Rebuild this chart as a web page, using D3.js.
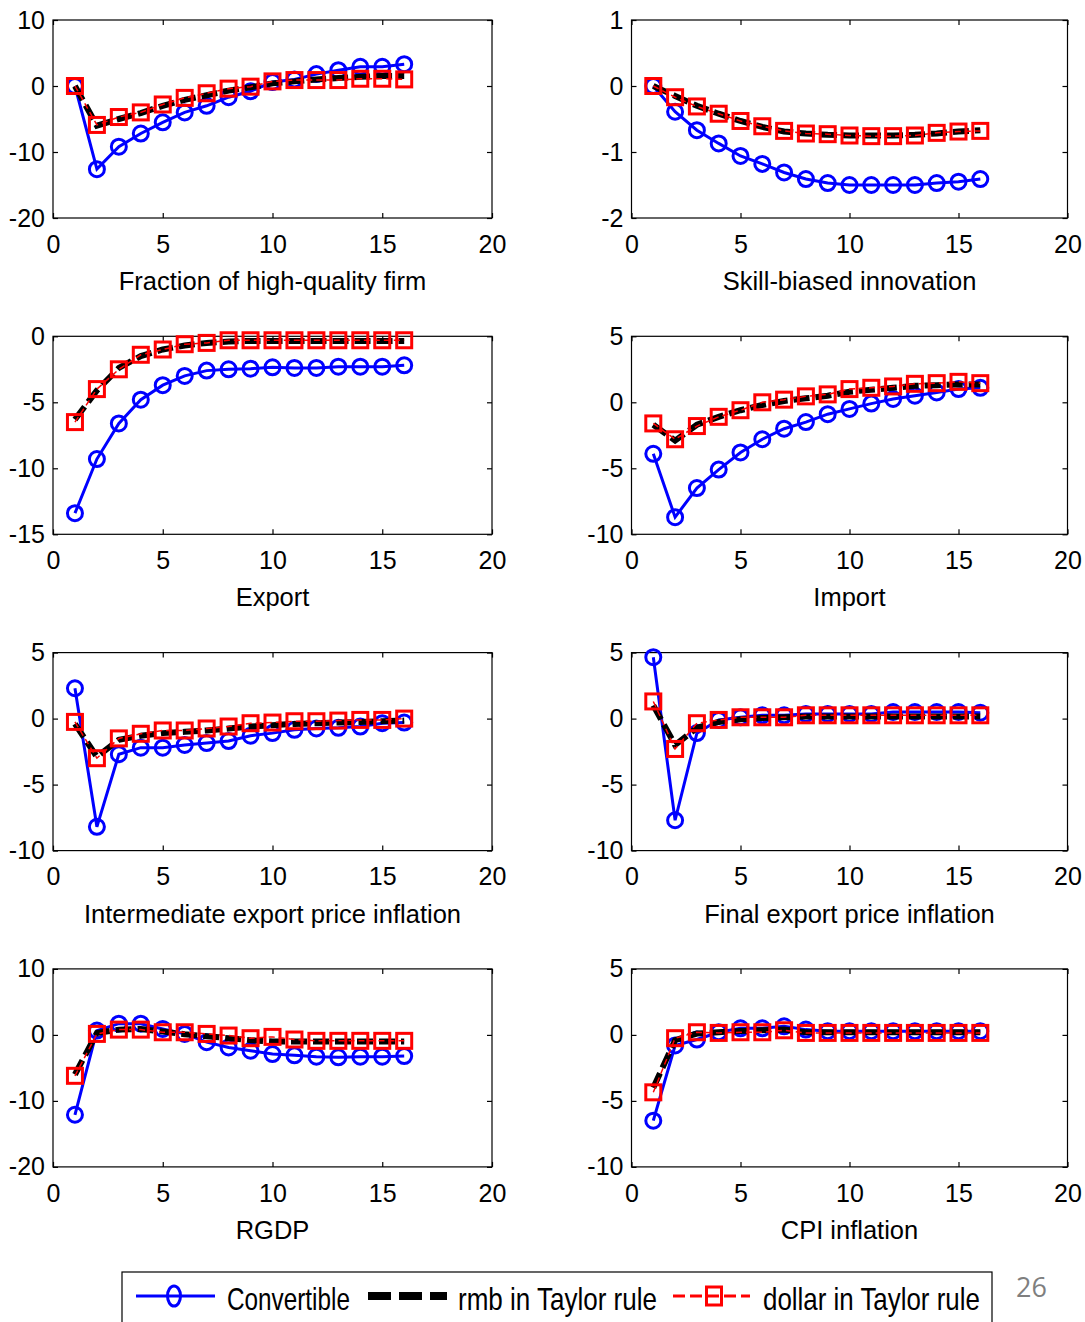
<!DOCTYPE html>
<html>
<head>
<meta charset="utf-8">
<script src="https://cdn.jsdelivr.net/npm/d3@7"></script>
<style>
  body { margin: 0; background: #fff; }
  svg { display: block; }
</style>
</head>
<body>
<div class="canvas"></div>
<script>
// panel titles, in reading order (left to right, top to bottom)
const titles = [
  'Fraction of high-quality firm', 'Skill-biased innovation',
  'Export', 'Import',
  'Intermediate export price inflation', 'Final export price inflation',
  'RGDP', 'CPI inflation'
];

// y limits and y ticks of each panel
const yDomains = [[-20, 10], [-2, 1], [-15, 0], [-10, 5], [-10, 5], [-10, 5], [-20, 10], [-10, 5]];
const yTicks = [
  [-20, -10, 0, 10], [-2, -1, 0, 1], [-15, -10, -5, 0], [-10, -5, 0, 5],
  [-10, -5, 0, 5], [-10, -5, 0, 5], [-20, -10, 0, 10], [-10, -5, 0, 5]
];
const xTicks = [0, 5, 10, 15, 20];
const periods = d3.range(1, 17);

// Convertible (blue, circles)
const convertible = [
  [0, -12.6, -9.2, -7.2, -5.5, -4.0, -3.0, -1.7, -0.8, 0.6, 1.0, 1.8, 2.4, 2.9, 2.9, 3.3],
  [0, -0.39, -0.67, -0.87, -1.06, -1.18, -1.31, -1.41, -1.47, -1.50, -1.50, -1.50, -1.50, -1.47, -1.45, -1.41],
  [-13.4, -9.3, -6.6, -4.8, -3.7, -3.0, -2.6, -2.5, -2.45, -2.35, -2.4, -2.4, -2.3, -2.3, -2.3, -2.2],
  [-3.9, -8.7, -6.5, -5.1, -3.8, -2.8, -2.0, -1.5, -0.9, -0.5, -0.1, 0.25, 0.5, 0.75, 1.0, 1.1],
  [2.3, -8.2, -2.7, -2.2, -2.2, -2.0, -1.85, -1.7, -1.3, -1.1, -0.85, -0.75, -0.7, -0.6, -0.35, -0.3],
  [4.65, -7.7, -1.1, -0.1, 0.1, 0.25, 0.25, 0.35, 0.35, 0.35, 0.35, 0.5, 0.5, 0.5, 0.5, 0.45],
  [-12.1, 0.65, 1.7, 1.7, 0.9, 0.15, -1.1, -1.9, -2.4, -2.9, -3.1, -3.3, -3.4, -3.3, -3.3, -3.2],
  [-6.5, -0.8, -0.35, 0.2, 0.5, 0.5, 0.65, 0.4, 0.28, 0.28, 0.28, 0.28, 0.28, 0.28, 0.28, 0.28]
];

// rmb in Taylor rule (black, thick dashes)
const rmbRule = [
  [0, -6.0, -5.0, -4.1, -3.0, -2.1, -1.4, -0.7, -0.2, 0.4, 0.7, 1.0, 1.2, 1.4, 1.5, 1.5],
  [0, -0.15, -0.30, -0.42, -0.53, -0.62, -0.69, -0.72, -0.74, -0.75, -0.75, -0.75, -0.74, -0.72, -0.69, -0.67],
  [-6.3, -4.1, -2.4, -1.5, -1.0, -0.7, -0.5, -0.4, -0.35, -0.35, -0.35, -0.35, -0.35, -0.35, -0.35, -0.35],
  [-1.7, -2.9, -1.7, -1.1, -0.6, -0.2, 0.1, 0.3, 0.5, 0.8, 0.95, 1.1, 1.25, 1.3, 1.35, 1.35],
  [-0.4, -2.9, -1.6, -1.3, -1.1, -1.0, -0.9, -0.75, -0.6, -0.5, -0.4, -0.35, -0.3, -0.25, -0.2, -0.15],
  [1.0, -2.0, -0.7, -0.25, -0.05, 0.05, 0.1, 0.15, 0.15, 0.15, 0.15, 0.15, 0.15, 0.15, 0.15, 0.15],
  [-6.0, 0.3, 0.8, 0.9, 0.5, 0.1, -0.2, -0.5, -0.8, -1.0, -1.0, -1.0, -1.0, -1.0, -1.0, -1.0],
  [-4.0, -0.4, 0.1, 0.2, 0.3, 0.35, 0.4, 0.2, 0.2, 0.2, 0.2, 0.2, 0.2, 0.2, 0.2, 0.2]
];

// dollar in Taylor rule (red, squares)
const dollarRule = [
  [0, -5.9, -4.7, -4.0, -2.8, -1.8, -1.1, -0.4, -0.1, 0.7, 0.9, 0.9, 0.9, 1.1, 1.1, 1.0],
  [0, -0.17, -0.31, -0.42, -0.53, -0.61, -0.68, -0.72, -0.73, -0.75, -0.76, -0.76, -0.75, -0.71, -0.69, -0.68],
  [-6.5, -4.0, -2.5, -1.4, -1.0, -0.6, -0.5, -0.3, -0.3, -0.3, -0.3, -0.3, -0.3, -0.3, -0.3, -0.3],
  [-1.6, -2.8, -1.8, -1.1, -0.6, 0.0, 0.2, 0.45, 0.6, 1.0, 1.1, 1.2, 1.4, 1.45, 1.55, 1.45],
  [-0.25, -3.0, -1.5, -1.15, -0.9, -0.9, -0.75, -0.6, -0.35, -0.3, -0.2, -0.2, -0.15, -0.1, -0.1, 0.0],
  [1.3, -2.3, -0.35, -0.1, 0.1, 0.1, 0.1, 0.25, 0.25, 0.25, 0.25, 0.25, 0.25, 0.25, 0.25, 0.25],
  [-6.2, 0.15, 0.8, 0.8, 0.4, 0.4, 0.15, -0.1, -0.5, -0.3, -0.7, -0.9, -0.9, -0.9, -0.9, -0.9],
  [-4.35, -0.25, 0.2, 0.15, 0.2, 0.2, 0.35, 0.15, 0.15, 0.15, 0.15, 0.15, 0.15, 0.15, 0.15, 0.15]
];

const legendLabels = ['Convertible', 'rmb in Taylor rule', 'dollar in Taylor rule'];

const dims = { width: 1085, height: 1322 };
const colRange = [[53, 492], [631.5, 1067.5]];  // x pixel span of each column
const rowTop = r => 20 + r * 316.3;
const panelH = 198;
const font = 'Liberation Sans, Arial, sans-serif';
const plain = d => String(d);  // matlab style labels: hyphen minus, no decimals

const svg = d3.select('.canvas')
  .append('svg')
  .attr('width', dims.width)
  .attr('height', dims.height);

titles.forEach((title, i) => {
  const col = i % 2, row = Math.floor(i / 2);
  const top = rowTop(row), bottom = top + panelH;

  const x = d3.scaleLinear().domain([0, 20]).range(colRange[col]);
  const y = d3.scaleLinear().domain(yDomains[i]).range([bottom, top]);

  const g = svg.append('g');

  // white axes box
  g.append('rect')
    .attr('x', x(0)).attr('y', top)
    .attr('width', x(20) - x(0)).attr('height', panelH)
    .attr('fill', '#fff')
    .attr('stroke', '#000')
    .attr('stroke-width', 1.2);

  // ticks on all four sides, pointing inwards (matlab style)
  const styleAxis = sel => {
    sel.select('.domain').remove();
    sel.selectAll('line').attr('stroke', '#000').attr('stroke-width', 1.2);
    sel.selectAll('text')
      .attr('fill', '#000')
      .style('font-family', font)
      .style('font-size', '25px');
  };

  g.append('g')
    .attr('transform', `translate(0,${bottom})`)
    .call(d3.axisBottom(x).tickValues(xTicks).tickSize(-5).tickPadding(17).tickFormat(plain))
    .call(styleAxis);
  g.append('g')
    .attr('transform', `translate(0,${top})`)
    .call(d3.axisTop(x).tickValues(xTicks).tickSize(-5).tickFormat(''))
    .call(styleAxis);
  g.append('g')
    .attr('transform', `translate(${x(0)},0)`)
    .call(d3.axisLeft(y).tickValues(yTicks[i]).tickSize(-5).tickPadding(8).tickFormat(plain))
    .call(styleAxis);
  g.append('g')
    .attr('transform', `translate(${x(20)},0)`)
    .call(d3.axisRight(y).tickValues(yTicks[i]).tickSize(-5).tickFormat(''))
    .call(styleAxis);

  const line = d3.line().x((d, k) => x(periods[k])).y(d => y(d));

  // convertible
  g.append('path')
    .attr('d', line(convertible[i]))
    .attr('fill', 'none')
    .attr('stroke', '#0000ff')
    .attr('stroke-width', 3);
  g.selectAll('circle.conv')
    .data(convertible[i])
    .enter()
    .append('circle')
    .attr('class', 'conv')
    .attr('cx', (d, k) => x(periods[k]))
    .attr('cy', d => y(d))
    .attr('r', 7.5)
    .attr('fill', 'none')
    .attr('stroke', '#0000ff')
    .attr('stroke-width', 3);

  // rmb in Taylor rule
  g.append('path')
    .attr('d', line(rmbRule[i]))
    .attr('fill', 'none')
    .attr('stroke', '#000')
    .attr('stroke-width', 6)
    .attr('stroke-dasharray', '16,6');

  // dollar in Taylor rule
  g.append('path')
    .attr('d', line(dollarRule[i]))
    .attr('fill', 'none')
    .attr('stroke', '#ff0000')
    .attr('stroke-width', 1.5)
    .attr('stroke-dasharray', '6,4');
  g.selectAll('rect.dollar')
    .data(dollarRule[i])
    .enter()
    .append('rect')
    .attr('class', 'dollar')
    .attr('x', (d, k) => x(periods[k]) - 7.5)
    .attr('y', d => y(d) - 7.5)
    .attr('width', 15)
    .attr('height', 15)
    .attr('fill', 'none')
    .attr('stroke', '#ff0000')
    .attr('stroke-width', 3);

  // panel title
  g.append('text')
    .attr('x', (x(0) + x(20)) / 2)
    .attr('y', bottom + 72)
    .attr('text-anchor', 'middle')
    .style('font-family', font)
    .style('font-size', '25.5px')
    .text(title);
});

// legend
const legend = svg.append('g');
legend.append('rect')
  .attr('x', 122).attr('y', 1272)
  .attr('width', 870).attr('height', 70)
  .attr('fill', '#fff')
  .attr('stroke', '#000')
  .attr('stroke-width', 1.2);

legend.append('line')
  .attr('x1', 136).attr('x2', 215).attr('y1', 1296).attr('y2', 1296)
  .attr('stroke', '#0000ff').attr('stroke-width', 3);
legend.append('ellipse')
  .attr('cx', 174).attr('cy', 1296).attr('rx', 6.5).attr('ry', 10)
  .attr('fill', 'none').attr('stroke', '#0000ff').attr('stroke-width', 3);

legend.append('line')
  .attr('x1', 368).attr('x2', 447).attr('y1', 1296).attr('y2', 1296)
  .attr('stroke', '#000').attr('stroke-width', 8)
  .attr('stroke-dasharray', '23,8');

legend.append('line')
  .attr('x1', 673).attr('x2', 750).attr('y1', 1296).attr('y2', 1296)
  .attr('stroke', '#ff0000').attr('stroke-width', 3)
  .attr('stroke-dasharray', '12,5');
legend.append('rect')
  .attr('x', 706.5).attr('y', 1287).attr('width', 15).attr('height', 18)
  .attr('fill', 'none').attr('stroke', '#ff0000').attr('stroke-width', 3);

// legend labels are condensed: squeeze each one to its width with a scale
const legendText = [{ x: 227, w: 123 }, { x: 458, w: 199 }, { x: 763, w: 217 }];
legendLabels.forEach((label, k) => {
  const t = legend.append('g')
    .append('text')
    .attr('x', 0).attr('y', 0)
    .style('font-family', font)
    .style('font-size', '31px')
    .text(label);
  const sx = legendText[k].w / t.node().getComputedTextLength();
  d3.select(t.node().parentNode)
    .attr('transform', `translate(${legendText[k].x},1310) scale(${sx},1)`);
});

// slide page number
svg.append('text')
  .attr('x', 1016).attr('y', 1297)
  .attr('fill', '#7f7f7f')
  .style('font-family', 'Open Sans, sans-serif')
  .style('font-size', '27px')
  .text('26');
</script>
</body>
</html>
